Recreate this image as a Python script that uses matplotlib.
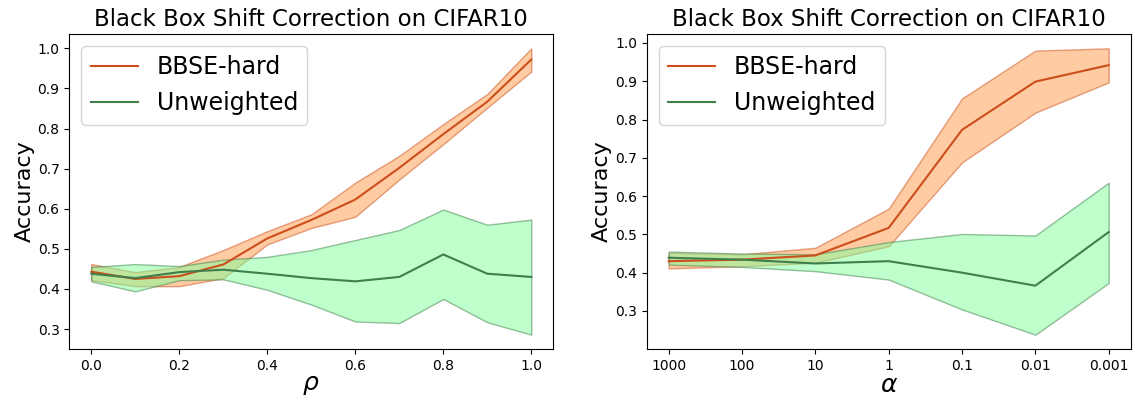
import matplotlib
matplotlib.use('Agg')
import matplotlib.pyplot as plt
import numpy as np

# left panel: accuracy vs rho
rho = [0.0, 0.1, 0.2, 0.3, 0.4, 0.5, 0.6, 0.7, 0.8, 0.9, 1.0]
bbse_rho_mean = [0.443, 0.425, 0.432, 0.461, 0.526, 0.572, 0.623, 0.702, 0.786, 0.867, 0.972]
bbse_rho_hi = [0.462, 0.442, 0.455, 0.497, 0.544, 0.586, 0.665, 0.732, 0.811, 0.886, 1.000]
bbse_rho_lo = [0.422, 0.407, 0.407, 0.427, 0.511, 0.552, 0.580, 0.673, 0.761, 0.852, 0.942]
unw_rho_mean = [0.438, 0.427, 0.442, 0.448, 0.438, 0.427, 0.419, 0.430, 0.486, 0.438, 0.430]
unw_rho_hi = [0.455, 0.462, 0.457, 0.473, 0.480, 0.497, 0.522, 0.547, 0.598, 0.560, 0.573]
unw_rho_lo = [0.419, 0.394, 0.422, 0.424, 0.398, 0.361, 0.319, 0.315, 0.375, 0.317, 0.286]

# right panel: accuracy vs alpha (dirichlet)
alpha_labels = ['1000', '100', '10', '1', '0.1', '0.01', '0.001']
bbse_a_mean = [0.430, 0.434, 0.445, 0.517, 0.773, 0.899, 0.942]
bbse_a_hi = [0.452, 0.448, 0.465, 0.567, 0.855, 0.980, 0.986]
bbse_a_lo = [0.411, 0.417, 0.426, 0.469, 0.688, 0.818, 0.897]
unw_a_mean = [0.439, 0.434, 0.424, 0.430, 0.400, 0.366, 0.506]
unw_a_hi = [0.455, 0.450, 0.448, 0.480, 0.501, 0.497, 0.635]
unw_a_lo = [0.421, 0.415, 0.404, 0.382, 0.304, 0.238, 0.373]


def panel(ax, x, bm, bl, bh, um, ul, uh, xlabel):
    ax.plot(x, bm, color='#CC4F1B', label='BBSE-hard')
    ax.fill_between(x, bl, bh, alpha=0.5, edgecolor='#CC4F1B', facecolor='#FF9848')
    ax.plot(x, um, color='#3F7F4C', label='Unweighted')
    ax.fill_between(x, ul, uh, alpha=0.5, edgecolor='#3F7F4C', facecolor='#7EFF99')
    ax.set_title('Black Box Shift Correction on CIFAR10', fontsize=16.5)
    ax.set_xlabel(xlabel, fontsize=18, labelpad=0)
    ax.set_ylabel('Accuracy', fontsize=16, labelpad=2)
    ax.legend(loc='upper left', fontsize=17)


fig = plt.figure(figsize=(11.33, 4), dpi=100)
ax1 = fig.add_axes([69.3 / 1133, 51 / 400, 484 / 1133, 315 / 400])
ax2 = fig.add_axes([646.7 / 1133, 51 / 400, 484 / 1133, 315 / 400])

panel(ax1, rho, bbse_rho_mean, bbse_rho_lo, bbse_rho_hi,
      unw_rho_mean, unw_rho_lo, unw_rho_hi, r'$\rho$')

pos = np.arange(len(alpha_labels))
panel(ax2, pos, bbse_a_mean, bbse_a_lo, bbse_a_hi,
      unw_a_mean, unw_a_lo, unw_a_hi, r'$\alpha$')
ax2.set_xticks(pos)
ax2.set_xticklabels(alpha_labels)

fig.savefig('out.png', dpi=100)
